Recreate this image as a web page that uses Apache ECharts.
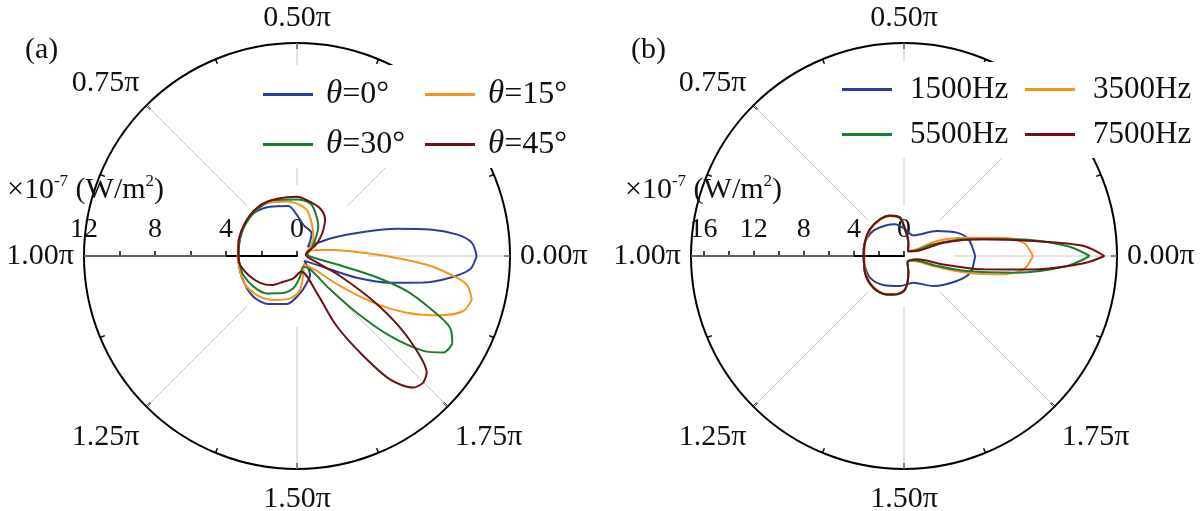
<!DOCTYPE html>
<html>
<head>
<meta charset="utf-8">
<script src="https://cdn.jsdelivr.net/npm/echarts@6/dist/echarts.min.js"></script>
</head>
<body style="margin:0;">
<div id="main" style="width:1200px;height:511px;"></div>
<script type="text/javascript">
// every point is [radius (x1e-7 W/m2), angle in degrees, -180..180]
var thetaNames = ['θ=0°', 'θ=15°', 'θ=30°', 'θ=45°'];
var freqNames = ['1500Hz', '3500Hz', '5500Hz', '7500Hz'];
var colors = ['#2a3d9c', '#f7941e', '#1b7d2f', '#6e1014'];

// (a) different incidence angles
var theta0 = [[10.12,0],[9.87,4.4],[9.08,7.7],[7.64,11.3],[5.82,15.3],[3.97,19.9],[2.29,26.8],[1.13,35.5],[0.8,40],
  [1.1,48],[1.52,57],[1.78,78],[2.3,90],[2.86,99.8],[3.17,118.7],[3.4,132],[3.45,140],[3.42,150],[3.37,157.7],[3.33,168],
  [3.31,177.4],[3.31,-170],[3.33,-159.5],[3.36,-147],[3.36,-137],[3.28,-128],[3.15,-120.8],[2.77,-102],[2.11,-85.4],
  [1.63,-70.5],[1.3,-55.6],[0.94,-47.4],[0.5,-35],[0.82,-27],[2.0,-22],[3.58,-20],[5.45,-16],[7.27,-11.9],[8.71,-8.1],
  [9.78,-4.4],[10.12,0]];
var theta15 = [[10.15,-14],[9.69,-9.5],[8.68,-6.8],[7.27,-3.8],[5.24,-0.4],[3.37,3.8],[2.07,9.4],[1.16,17],[0.6,25],
  [0.85,32],[1.36,47],[2.02,65.8],[2.65,78],[2.88,86.6],[3.12,100.8],[3.42,120],[3.47,132],[3.45,140],[3.42,150],
  [3.39,161],[3.36,171],[3.35,180],[3.31,-166],[3.33,-157],[3.32,-148.6],[3.1,-132],[2.77,-116.6],[2.42,-99.4],
  [1.92,-85],[1.04,-70],[0.6,-50],[1.39,-37.3],[2.95,-34.9],[5.04,-31.4],[6.96,-27.3],[8.72,-22.5],[9.87,-18.3],[10.15,-14]];
var theta30 = [[10.05,-29.5],[9.52,-25.1],[8.28,-22],[6.48,-17.7],[4.45,-14.7],[2.48,-12.2],[1.2,-8],[0.6,10],[1.0,30],
  [1.36,41.6],[2.04,54],[2.7,67.9],[3.06,76],[3.19,90.3],[3.42,112.9],[3.46,125],[3.44,135.7],[3.41,148],[3.38,160],
  [3.33,170],[3.3,180],[3.25,-170],[3.21,-160.5],[3.0,-144.9],[2.71,-129],[2.31,-114.5],[1.83,-96.5],[1.18,-81.7],
  [0.7,-60],[1.05,-45.7],[2.64,-45.3],[4.64,-43.5],[6.91,-40.7],[8.9,-36.9],[9.88,-33.4],[10.05,-29.5]];
var theta45 = [[10.08,-45.1],[9.83,-42],[8.93,-39.1],[7.07,-34.8],[4.99,-30.5],[2.67,-24.9],[1.2,-18],[0.5,10],[1.2,30],
  [1.63,37.5],[2.08,44.6],[2.57,52],[2.98,64],[3.2,80],[3.34,90.3],[3.41,108],[3.52,122.6],[3.52,134],[3.49,144.4],
  [3.44,156],[3.38,167.8],[3.3,178],[3.27,-172.7],[2.94,-158.7],[2.57,-144],[2.17,-131],[1.64,-118],[1.27,-99],[0.9,-75],
  [2.34,-61.8],[4.53,-60.5],[6.76,-56.4],[8.7,-53],[9.9,-48.5],[10.08,-45.1]];

// (b) different frequencies
var f1500 = [[5.68,0],[5.32,14.5],[4.61,23.9],[3.29,37.4],[1.81,65.7],[2.2,90],[2.63,105.9],[2.82,119.5],[3.17,140.8],
  [3.3,161],[3.25,180],[3.22,-165.6],[3.22,-147.5],[2.85,-125.5],[2.42,-97.6],[2.26,-70.7],[3.36,-45.6],[4.66,-25.4],
  [5.45,-14.2],[5.68,0]];
var f3500 = [[10.29,0],[9.6,6.4],[7.82,10.8],[5.22,16.3],[2.88,24.7],[1.15,27.8],[0.5,50],[1.1,72],[2.35,90],[3.0,96],
  [3.35,109],[3.45,123],[3.4,142],[3.27,161],[3.17,180],[3.33,-157],[3.47,-134],[3.33,-114],[3.08,-101],[2.62,-88],
  [1.35,-75],[0.55,-60],[0.85,-28],[2.48,-18.8],[5.19,-14.9],[7.82,-10.8],[9.6,-6.4],[10.29,0]];
var f5500 = [[14.83,0],[13.04,3.5],[9.11,8.4],[5.19,14.9],[2.53,21.7],[0.85,28],[0.5,50],[1.12,72],[2.4,91],[3.08,96],
  [3.4,109],[3.52,123],[3.47,142],[3.31,161],[3.21,180],[3.4,-157],[3.54,-134],[3.38,-114],[3.13,-101],[2.68,-88],
  [1.38,-75.4],[0.57,-60],[0.9,-22],[2.5,-17],[5.16,-13.5],[9.11,-8.4],[13.04,-3.5],[14.83,0]];
var f7500 = [[16.0,0],[14.37,3.2],[10.42,6.6],[6.49,11.9],[3.32,18.7],[1.09,21.5],[0.5,50],[1.15,72],[2.42,90],[3.1,96],
  [3.42,109],[3.5,123],[3.46,142],[3.3,161],[3.2,180],[3.38,-157],[3.52,-134],[3.37,-114],[3.12,-101],[2.66,-88],
  [1.36,-75],[0.56,-60],[1.05,-14.7],[3.22,-12],[6.44,-9.5],[10.4,-5.9],[14.36,-2.3],[16.0,0]];

var spokeAngles = [-180, -135, -90, -45, 0, 45, 90, 135];
var spokeInner = 4;
var rMaxA = 12, rMaxB = 17;

var serif = 'Liberation Serif';
var myChart = echarts.init(document.getElementById('main'));

function spokes(rMax) {
  var d = [];
  spokeAngles.forEach(function (a) {
    d.push([spokeInner, a], [rMax, a], ['-', '-']);
  });
  return d;
}

function angleAxis(idx) {
  var lab = { fontFamily: serif, fontSize: 30, color: '#111' };
  return {
    polarIndex: idx, type: 'value', min: -180, max: 180, interval: 45,
    startAngle: 180, clockwise: false,
    axisLine: { lineStyle: { color: '#000', width: 2 } },
    axisTick: { inside: true, length: 6, lineStyle: { color: '#000', width: 1.5 } },
    minorTick: { show: true, splitNumber: 2, length: 5, lineStyle: { color: '#000', width: 1.5 } },
    splitLine: { show: false },
    axisLabel: {
      margin: 10, fontFamily: serif, fontSize: 30, color: '#111',
      rich: {
        n: lab,
        d: Object.assign({ padding: [8, 0, 0, 0] }, lab),
        b: Object.assign({ padding: [5, 0, 0, 0] }, lab)
      },
      formatter: function (v) {
        if (v === 45) return '';
        var s = (((v + 360) % 360) / 180).toFixed(2) + 'π';
        var k = (v === -45 || v === -135) ? 'd' : (v === -90 ? 'b' : 'n');
        return '{' + k + '|' + s + '}';
      }
    }
  };
}

function radiusAxis(idx, rMax) {
  return {
    polarIndex: idx, type: 'value', min: 0, max: rMax, interval: 2,
    axisLine: { lineStyle: { color: '#000', width: 2 } },
    axisTick: { length: -5, lineStyle: { color: '#000', width: 1.5 } },
    splitLine: { show: false },
    axisLabel: {
      margin: -26, verticalAlign: 'middle', fontFamily: serif, fontSize: 28, color: '#111',
      formatter: function (v) { return v % 4 === 0 ? String(v) : ''; }
    }
  };
}

function curve(name, data, idx, color) {
  return {
    name: name, type: 'line', coordinateSystem: 'polar', polarIndex: idx,
    data: data, symbol: 'none', smooth: 0.3,
    lineStyle: { color: color, width: 2 }, itemStyle: { color: color }
  };
}

function spokeSeries(idx, rMax) {
  return {
    type: 'line', coordinateSystem: 'polar', polarIndex: idx, data: spokes(rMax),
    symbol: 'none', silent: true, z: 1,
    lineStyle: { color: '#c8c8c8', width: 1 }
  };
}

var titleFont = { fontFamily: serif, fontSize: 30, fontWeight: 'normal', color: '#111' };
var unitRich = {
  t: { fontFamily: serif, fontSize: 30, fontWeight: 'normal', color: '#111', lineHeight: 34 },
  s: { fontFamily: serif, fontSize: 17, fontWeight: 'normal', color: '#111', verticalAlign: 'top', lineHeight: 34 }
};
var unitText = '{t|×10}{s|-7}{t| (W/m}{s|2}{t|)}';

var option = {
  backgroundColor: '#fff',
  animation: false,
  title: [
    { text: '(a)', left: 20, top: 30, textStyle: titleFont },
    { text: '(b)', left: 626, top: 30, textStyle: titleFont },
    { text: unitText, left: 2, top: 168, textStyle: { fontWeight: 'normal', rich: unitRich } },
    { text: unitText, left: 620, top: 168, textStyle: { fontWeight: 'normal', rich: unitRich } }
  ],
  polar: [
    { center: [297, 256], radius: 213 },
    { center: [904, 256], radius: 213 }
  ],
  angleAxis: [angleAxis(0), angleAxis(1)],
  radiusAxis: [radiusAxis(0, rMaxA), radiusAxis(1, rMaxB)],
  legend: [
    {
      data: thetaNames, left: 253, top: 65, width: 330, itemGap: 17,
      padding: [13, 12, 7, 10], backgroundColor: '#fff',
      icon: 'rect', itemWidth: 50, itemHeight: 3,
      formatter: function (name) { return '{i|θ}{n|' + name.slice(1) + '}'; },
      textStyle: {
        width: 82, padding: [0, 0, 0, 8], lineHeight: 28,
        rich: {
          i: { fontFamily: serif, fontStyle: 'italic', fontSize: 33, color: '#111' },
          n: { fontFamily: serif, fontSize: 32, color: '#111' }
        }
      }
    },
    {
      data: freqNames, left: 832, top: 62, width: 360, itemGap: 14,
      padding: [12, 8, 8, 10], backgroundColor: '#fff',
      icon: 'rect', itemWidth: 50, itemHeight: 3,
      textStyle: { width: 101, padding: [0, 0, 0, 13], lineHeight: 28, fontFamily: serif, fontSize: 31, color: '#111' }
    }
  ],
  series: [
    spokeSeries(0, rMaxA),
    spokeSeries(1, rMaxB),
    curve(thetaNames[0], theta0, 0, colors[0]),
    curve(thetaNames[1], theta15, 0, colors[1]),
    curve(thetaNames[2], theta30, 0, colors[2]),
    curve(thetaNames[3], theta45, 0, colors[3]),
    curve(freqNames[0], f1500, 1, colors[0]),
    curve(freqNames[1], f3500, 1, colors[1]),
    curve(freqNames[2], f5500, 1, colors[2]),
    curve(freqNames[3], f7500, 1, colors[3])
  ]
};
myChart.setOption(option);
</script>
</body>
</html>
